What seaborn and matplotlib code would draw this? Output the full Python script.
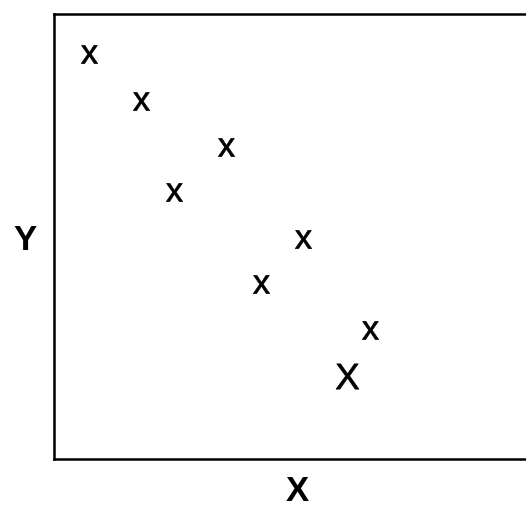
import matplotlib
matplotlib.use("Agg")
import matplotlib.pyplot as plt
import pandas as pd
import seaborn as sns

# Point positions (arbitrary units, 0-10 on both axes)
x_small = [0.74, 1.83, 3.61, 2.52, 5.23, 4.35, 6.64]
y_small = [9.10, 8.04, 7.01, 6.00, 4.94, 3.93, 2.90]
x_big = [6.16]
y_big = [1.87]

sns.set_style("white")
plt.rcParams['font.family'] = ['Liberation Sans', 'DejaVu Sans']
plt.rcParams['mathtext.fontset'] = 'custom'
plt.rcParams['mathtext.sf'] = 'Liberation Sans'

fig = plt.figure(figsize=(5.26, 5.09), dpi=100)
ax = fig.add_axes([0.1027, 0.0982, 0.905, 0.8743])

small_df = pd.DataFrame({"x": x_small, "y": y_small})
big_df = pd.DataFrame({"x": x_big, "y": y_big})

# lowercase and capital letter markers
sns.scatterplot(data=small_df, x="x", y="y", marker=r"$\mathsf{x}$",
                s=170, color="black", edgecolor="black", linewidth=0.5, ax=ax)
sns.scatterplot(data=big_df, x="x", y="y", marker=r"$\mathsf{X}$",
                s=330, color="black", edgecolor="black", linewidth=0.5, ax=ax)

ax.set_xlim(0, 10)
ax.set_ylim(0, 10)
ax.set_xticks([])
ax.set_yticks([])
for spine in ax.spines.values():
    spine.set_color("black")
    spine.set_linewidth(1.8)

ax.set_xlabel("X", fontsize=25, fontweight="bold", color="black", va="center")
ax.set_ylabel("Y", fontsize=25, fontweight="bold", color="black",
              rotation=0, va="center", ha="center")
ax.xaxis.set_label_coords(0.51, -0.074)
ax.yaxis.set_label_coords(-0.061, 0.492)

fig.savefig("out.png", dpi=100)
